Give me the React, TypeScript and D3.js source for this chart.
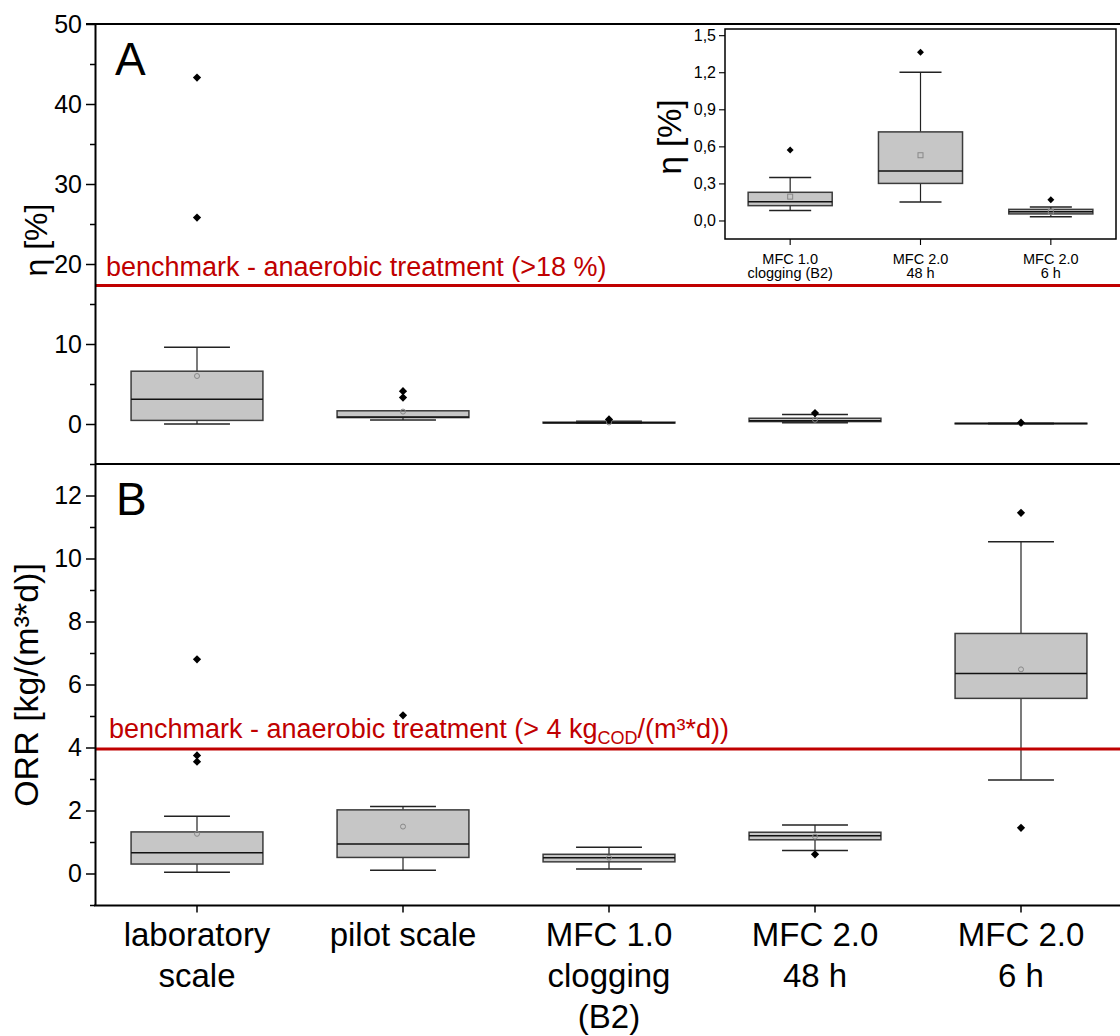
import React, { useEffect, useRef } from "react";
import * as d3 from "d3";

const categories = ["laboratory scale", "pilot scale", "MFC 1.0 clogging (B2)", "MFC 2.0 48 h", "MFC 2.0 6 h"];
const categoryLines = [["laboratory", "scale"], ["pilot scale"], ["MFC 1.0", "clogging", "(B2)"], ["MFC 2.0", "48 h"], ["MFC 2.0", "6 h"]];
const insetIdx = [2, 3, 4];
const insetLines = [["MFC 1.0", "clogging (B2)"], ["MFC 2.0", "48 h"], ["MFC 2.0", "6 h"]];

// coulombic efficiency eta [%]
const etaLow = [0.0, 0.5, 0.08, 0.15, 0.03];
const etaQ1 = [0.45, 0.8, 0.12, 0.3, 0.053];
const etaMedian = [3.1, 0.88, 0.152, 0.4, 0.071];
const etaQ3 = [6.6, 1.65, 0.228, 0.717, 0.09];
const etaHigh = [9.6, 1.65, 0.347, 1.2, 0.109];
const etaMean = [6.0, 1.55, 0.193, 0.528, 0.07];
const etaOutliers = [[25.8, 43.3], [3.3, 4.1], [0.571], [1.362], [0.168]];

// organic removal rate ORR [kg/(m3*d)]
const orrLow = [0.04, 0.1, 0.14, 0.73, 2.97];
const orrQ1 = [0.3, 0.51, 0.37, 1.07, 5.56];
const orrMedian = [0.66, 0.94, 0.5, 1.2, 6.35];
const orrQ3 = [1.32, 2.02, 0.61, 1.31, 7.62];
const orrHigh = [1.82, 2.13, 0.83, 1.54, 10.53];
const orrMean = [1.26, 1.49, 0.5, 1.17, 6.48];
const orrOutliers = [[3.55, 3.75, 6.8], [5.02], [], [0.61], [1.45, 11.45]];

const etaBenchmark = 17.3;
const orrBenchmark = 3.95;

const etaTicks = [0, 10, 20, 30, 40, 50];
const etaMinor = [-5, 5, 15, 25, 35, 45];
const orrTicks = [0, 2, 4, 6, 8, 10, 12];
const orrMinor = [-1, 1, 3, 5, 7, 9, 11];
const insetTicks = [0, 0.3, 0.6, 0.9, 1.2, 1.5];

const FONT = "'Liberation Sans', Arial, sans-serif";
const RED = "#c00000";

function drawBoxes(g: any, x: any, y: any, idx: number[], s: any, frac: number, meanShape: string, outSize: number) {
  idx.forEach((i) => {
    const key = categories[i];
    const cx = x(key) + x.bandwidth() / 2;
    const w = x.bandwidth() * frac;
    // whiskers
    g.append("line").attr("x1", cx).attr("x2", cx).attr("y1", y(s.hi[i])).attr("y2", y(s.q3[i]))
      .attr("stroke", "#222").attr("stroke-width", 1.2);
    g.append("line").attr("x1", cx).attr("x2", cx).attr("y1", y(s.lo[i])).attr("y2", y(s.q1[i]))
      .attr("stroke", "#222").attr("stroke-width", 1.2);
    [s.hi[i], s.lo[i]].forEach((v: number) => {
      g.append("line").attr("x1", cx - w / 4).attr("x2", cx + w / 4).attr("y1", y(v)).attr("y2", y(v))
        .attr("stroke", "#222").attr("stroke-width", 1.5);
    });
    // box
    g.append("rect")
      .attr("x", cx - w / 2)
      .attr("y", y(s.q3[i]))
      .attr("width", w)
      .attr("height", Math.max(y(s.q1[i]) - y(s.q3[i]), 0.5))
      .attr("fill", "#c6c6c6")
      .attr("stroke", "#3c3c3c")
      .attr("stroke-width", 1.5);
    g.append("line").attr("x1", cx - w / 2).attr("x2", cx + w / 2).attr("y1", y(s.med[i])).attr("y2", y(s.med[i]))
      .attr("stroke", "#111").attr("stroke-width", 1.5);
    // mean
    if (meanShape === "circle") {
      g.append("circle").attr("cx", cx).attr("cy", y(s.mean[i])).attr("r", 2.5)
        .attr("fill", "none").attr("stroke", "#888").attr("stroke-width", 1);
    } else {
      g.append("rect").attr("x", cx - 2.5).attr("y", y(s.mean[i]) - 2.5).attr("width", 5).attr("height", 5)
        .attr("fill", "none").attr("stroke", "#888").attr("stroke-width", 1);
    }
    // outliers
    const sym = d3.symbol().type(d3.symbolSquare).size(outSize);
    s.out[i].forEach((v: number) => {
      g.append("path").attr("d", sym()).attr("fill", "#000")
        .attr("transform", `translate(${cx},${y(v)}) rotate(45)`);
    });
  });
}

function styleAxis(ax: any, width: number, fontSize: number) {
  ax.selectAll("path").attr("stroke", "#000").attr("stroke-width", width);
  ax.selectAll("line").attr("stroke", "#000").attr("stroke-width", width * 0.75);
  ax.selectAll("text").attr("font-family", FONT).attr("font-size", fontSize).attr("fill", "#000");
}

export default function App() {
  const ref = useRef<SVGSVGElement>(null);

  useEffect(() => {
    const svg = d3.select(ref.current);
    svg.selectAll("*").remove();

    const left = 95;
    const right = 1124;
    const x = d3.scaleBand().domain(categories).range([94, 1124]).padding(0);
    const yA = d3.scaleLinear().domain([-5, 50]).range([464, 24]);
    const yB = d3.scaleLinear().domain([-1, 13]).range([905, 464]);

    const all = [0, 1, 2, 3, 4];

    // ---- panel A
    const gA = svg.append("g");
    drawBoxes(gA, x, yA, all,
      { lo: etaLow, q1: etaQ1, med: etaMedian, q3: etaQ3, hi: etaHigh, mean: etaMean, out: etaOutliers },
      0.64, "circle", 34);

    gA.append("line").attr("x1", left).attr("x2", right).attr("y1", yA(etaBenchmark)).attr("y2", yA(etaBenchmark))
      .attr("stroke", RED).attr("stroke-width", 3);
    gA.append("text").attr("x", 106).attr("y", 276).attr("font-family", FONT).attr("font-size", 27)
      .attr("fill", RED).text("benchmark - anaerobic treatment (>18 %)");

    const axA = gA.append("g").attr("transform", `translate(${left},0)`)
      .call(d3.axisLeft(yA).tickValues(etaTicks).tickSize(9).tickSizeOuter(0).tickPadding(4).tickFormat(d3.format("d")));
    styleAxis(axA, 2, 25);
    gA.append("g").attr("transform", `translate(${left},0)`)
      .call(d3.axisLeft(yA).tickValues(etaMinor).tickSize(5).tickFormat(() => ""))
      .call((g: any) => { g.select("path").remove(); g.selectAll("line").attr("stroke", "#000").attr("stroke-width", 1.5); });

    gA.append("line").attr("x1", left - 9).attr("x2", right).attr("y1", 24).attr("y2", 24)
      .attr("stroke", "#000").attr("stroke-width", 2);

    gA.append("text").attr("transform", `translate(47,240) rotate(-90)`).attr("text-anchor", "middle")
      .attr("font-family", FONT).attr("font-size", 32).text("η [%]");
    gA.append("text").attr("x", 115).attr("y", 75).attr("font-family", FONT).attr("font-size", 46).text("A");

    // ---- panel B
    const gB = svg.append("g");
    drawBoxes(gB, x, yB, all,
      { lo: orrLow, q1: orrQ1, med: orrMedian, q3: orrQ3, hi: orrHigh, mean: orrMean, out: orrOutliers },
      0.64, "circle", 34);

    gB.append("line").attr("x1", left).attr("x2", right).attr("y1", yB(orrBenchmark)).attr("y2", yB(orrBenchmark))
      .attr("stroke", RED).attr("stroke-width", 3);
    const bt = gB.append("text").attr("x", 109).attr("y", 738).attr("font-family", FONT).attr("font-size", 27)
      .attr("fill", RED);
    bt.append("tspan").text("benchmark - anaerobic treatment (> 4 kg");
    bt.append("tspan").attr("font-size", 18).attr("dy", 6).text("COD");
    bt.append("tspan").attr("dy", -6).text("/(m³*d))");

    const axB = gB.append("g").attr("transform", `translate(${left},0)`)
      .call(d3.axisLeft(yB).tickValues(orrTicks).tickSize(9).tickSizeOuter(0).tickPadding(4).tickFormat(d3.format("d")));
    styleAxis(axB, 2, 25);
    gB.append("g").attr("transform", `translate(${left},0)`)
      .call(d3.axisLeft(yB).tickValues(orrMinor).tickSize(5).tickFormat(() => ""))
      .call((g: any) => { g.select("path").remove(); g.selectAll("line").attr("stroke", "#000").attr("stroke-width", 1.5); });

    // divider between panels
    gB.append("line").attr("x1", left).attr("x2", right).attr("y1", 464).attr("y2", 464)
      .attr("stroke", "#000").attr("stroke-width", 2);

    const axX = gB.append("g").attr("transform", `translate(0,905.5)`)
      .call(d3.axisBottom(x).tickSize(7).tickSizeOuter(0).tickFormat(() => ""));
    styleAxis(axX, 2, 32);
    axX.select("path").attr("d", `M${left - 1},0H${right}`);

    categories.forEach((c, i) => {
      const cx = (x(c) as number) + x.bandwidth() / 2;
      const t = gB.append("text").attr("text-anchor", "middle").attr("font-family", FONT).attr("font-size", 33);
      categoryLines[i].forEach((line, j) => {
        t.append("tspan").attr("x", cx).attr("y", 946 + j * 41).text(line);
      });
    });

    gB.append("text").attr("transform", `translate(38,685) rotate(-90)`).attr("text-anchor", "middle")
      .attr("font-family", FONT).attr("font-size", 34).text("ORR [kg/(m³*d)]");
    gB.append("text").attr("x", 116).attr("y", 515).attr("font-family", FONT).attr("font-size", 46).text("B");

    // ---- inset
    const gI = svg.append("g");
    const xI = d3.scaleBand().domain(insetIdx.map((i) => categories[i])).range([725, 1116]).padding(0);
    const yI = d3.scaleLinear().domain([-0.15, 1.55]).range([239, 29]);

    drawBoxes(gI, xI, yI, insetIdx,
      { lo: etaLow, q1: etaQ1, med: etaMedian, q3: etaQ3, hi: etaHigh, mean: etaMean, out: etaOutliers },
      0.645, "square", 24);

    gI.append("rect").attr("x", 725).attr("y", 29).attr("width", 391).attr("height", 210)
      .attr("fill", "none").attr("stroke", "#000").attr("stroke-width", 1.5);

    const axI = gI.append("g").attr("transform", `translate(725,0)`)
      .call(d3.axisLeft(yI).tickValues(insetTicks).tickSize(6).tickSizeOuter(0).tickPadding(3)
        .tickFormat((d: any) => d3.format(".1f")(d).replace(".", ",")));
    styleAxis(axI, 1.5, 16);
    axI.select("path").remove();

    const axIX = gI.append("g").attr("transform", `translate(0,239)`)
      .call(d3.axisBottom(xI).tickSize(6).tickSizeOuter(0).tickFormat(() => ""));
    styleAxis(axIX, 1.5, 14);
    axIX.select("path").remove();

    insetIdx.forEach((ci, i) => {
      const cx = (xI(categories[ci]) as number) + xI.bandwidth() / 2;
      const t = gI.append("text").attr("text-anchor", "middle").attr("font-family", FONT).attr("font-size", 14.5);
      insetLines[i].forEach((line, j) => {
        t.append("tspan").attr("x", cx).attr("y", 264 + j * 14).text(line);
      });
    });

    gI.append("text").attr("transform", `translate(681,137) rotate(-90)`).attr("text-anchor", "middle")
      .attr("font-family", FONT).attr("font-size", 33).text("η [%]");
  }, []);

  return (
    <svg ref={ref} width={1120} height={1036}
      style={{ position: "absolute", left: 0, top: 0, background: "#fff" }} />
  );
}
